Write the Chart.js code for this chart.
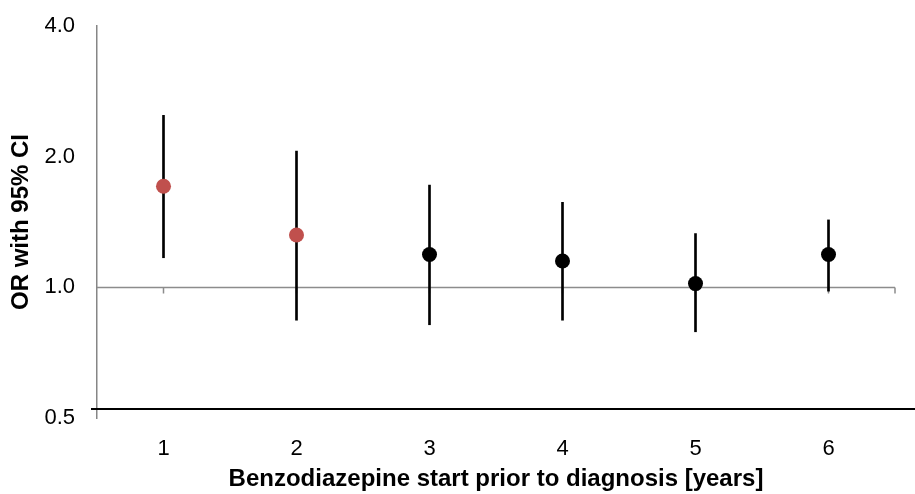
<!DOCTYPE html>
<html>
<head>
    <meta charset="UTF-8">
    <title>OR with 95% CI</title>
    <script src="https://cdn.jsdelivr.net/npm/chart.js"></script>
    <style>
        html, body { margin: 0; padding: 0; background: #fff; }
        #wrap { width: 915px; height: 494px; }
    </style>
</head>
<body>
<div id="wrap"><canvas id="orChart"></canvas></div>
<script>
    // data
    var years = ['1', '2', '3', '4', '5', '6'];
    var oddsRatio = [1.71, 1.32, 1.19, 1.15, 1.02, 1.19];
    var ciLower = [1.17, 0.84, 0.82, 0.84, 0.79, 0.98];
    var ciUpper = [2.49, 2.06, 1.72, 1.57, 1.33, 1.43];
    var yTicks = [0.5, 1, 2, 4];
    var pointColors = ['#C0504D', '#C0504D', '#000000', '#000000', '#000000', '#000000'];

    var ciRanges = years.map(function(y, i) { return [ciLower[i], ciUpper[i]]; });

    // reference line at OR = 1 and the dark base line
    var refLines = {
        id: 'refLines',
        beforeDatasetsDraw: function(chart) {
            var ctx = chart.ctx, x = chart.scales.x, y = chart.scales.y;
            var area = chart.chartArea;
            var y1 = Math.round(y.getPixelForValue(1)) + 0.5;
            ctx.save();
            ctx.strokeStyle = '#8c8c8c';
            ctx.lineWidth = 1.5;
            ctx.beginPath();
            ctx.moveTo(area.left, y1);
            ctx.lineTo(area.right, y1);
            years.forEach(function(c, i) {
                var px = x.getPixelForValue(i);
                ctx.moveTo(px, y1);
                ctx.lineTo(px, y1 + 6);
            });
            ctx.moveTo(area.right, y1);
            ctx.lineTo(area.right, y1 + 6);
            ctx.stroke();

            ctx.strokeStyle = '#000';
            ctx.lineWidth = 2;
            ctx.beginPath();
            ctx.moveTo(area.left - 6, area.bottom - 9);
            ctx.lineTo(chart.width, area.bottom - 9);
            ctx.stroke();
            ctx.restore();
        }
    };

    var fontFamily = '"Liberation Sans", Arial, sans-serif';

    new Chart(document.getElementById('orChart'), {
        type: 'bar',
        data: {
            labels: years,
            datasets: [{
                type: 'line',
                label: 'OR',
                data: oddsRatio,
                showLine: false,
                pointRadius: 7.5,
                pointHoverRadius: 7.5,
                pointBackgroundColor: pointColors,
                pointBorderColor: pointColors,
                pointBorderWidth: 0,
                order: 1
            }, {
                label: '95% CI',
                data: ciRanges,
                backgroundColor: '#000',
                barThickness: 2,
                order: 2
            }]
        },
        options: {
            responsive: true,
            maintainAspectRatio: false,
            animation: false,
            layout: { padding: { top: 26, right: 20, left: 0, bottom: 0 } },
            plugins: {
                legend: { display: false },
                tooltip: { enabled: false }
            },
            scales: {
                x: {
                    offset: true,
                    grid: { display: false },
                    border: { display: false },
                    ticks: {
                        color: '#000',
                        padding: 10,
                        font: { family: fontFamily, size: 22 }
                    },
                    title: {
                        display: true,
                        text: 'Benzodiazepine start prior to diagnosis [years]',
                        color: '#000',
                        padding: { top: 0, bottom: 0 },
                        font: { family: fontFamily, size: 24, weight: 'bold' }
                    },
                    afterFit: function(scale) { scale.height = 76; }
                },
                y: {
                    type: 'logarithmic',
                    min: 0.5,
                    max: 4,
                    // ticks hidden, length only used to push labels off the axis
                    grid: { display: false, drawTicks: true, tickLength: 22 },
                    border: { display: true, color: '#868686', width: 1.5 },
                    afterBuildTicks: function(scale) {
                        scale.ticks = yTicks.map(function(v) { return { value: v }; });
                    },
                    ticks: {
                        color: '#000',
                        padding: 0,
                        font: { family: fontFamily, size: 22 },
                        callback: function(v) { return Number(v).toFixed(1); }
                    },
                    title: {
                        display: true,
                        text: 'OR with 95% CI',
                        color: '#000',
                        padding: { top: 7, bottom: 0 },
                        font: { family: fontFamily, size: 24, weight: 'bold' }
                    },
                    afterFit: function(scale) { scale.width = 97; }
                }
            }
        },
        plugins: [refLines]
    });
</script>
</body>
</html>
